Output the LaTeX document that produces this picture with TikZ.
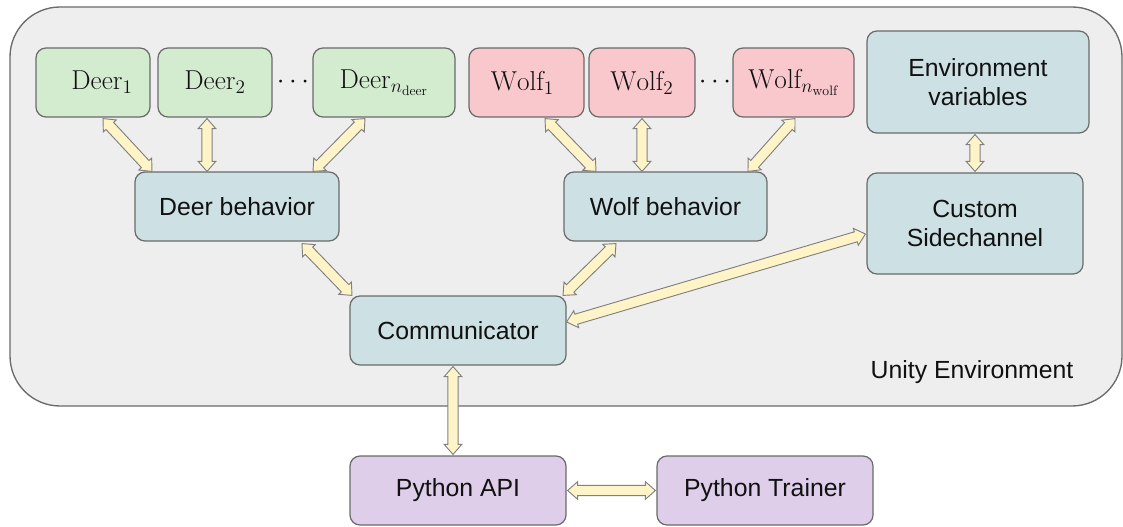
\documentclass[tikz,border=0pt]{standalone}
\usepackage{fontspec}
\setsansfont{Liberation Sans}
\usetikzlibrary{calc}

\definecolor{envbg}{HTML}{EEEEEE}
\definecolor{edge}{HTML}{6A6A6A}
\definecolor{deerfill}{HTML}{D3ECCF}
\definecolor{wolffill}{HTML}{F9C8CC}
\definecolor{corefill}{HTML}{CDE0E3}
\definecolor{pyfill}{HTML}{DECEE9}
\definecolor{arrowfill}{HTML}{FFF4C8}
\definecolor{ink}{HTML}{111111}

% block arrow dimensions: head length, head half width, shaft half width
\newcommand\arrHL{7.5pt}
\newcommand\arrHW{6.6pt}
\newcommand\arrSW{3.9pt}

% double-headed block arrow between two points
\newcommand\dblarrow[2]{%
  \coordinate (baS) at (#1);
  \coordinate (baE) at (#2);
  \coordinate (baA) at ($(baS)!\arrHL!(baE)$);
  \coordinate (baB) at ($(baE)!\arrHL!(baS)$);
  \draw[blockarrow] (baS)
    -- ($(baA)!\arrHW!-90:(baS)$) -- ($(baA)!\arrSW!-90:(baS)$)
    -- ($(baB)!\arrSW!90:(baE)$) -- ($(baB)!\arrHW!90:(baE)$)
    -- (baE)
    -- ($(baB)!\arrHW!-90:(baE)$) -- ($(baB)!\arrSW!-90:(baE)$)
    -- ($(baA)!\arrSW!90:(baS)$) -- ($(baA)!\arrHW!90:(baS)$)
    -- cycle;
}

\tikzset{
  box/.style={draw=edge, line width=0.9pt, rounded corners=7.5pt, inner sep=0pt,
    minimum height=51.75pt, text=ink, align=center},
  sans/.style={font=\sffamily\fontsize{18.6}{21.75}\selectfont},
  serif/.style={font=\fontsize{20.5}{24}\selectfont},
  agent/.style={box, serif, minimum width=85.5pt},
  deer/.style={agent, fill=deerfill},
  wolf/.style={agent, fill=wolffill},
  core/.style={box, sans, fill=corefill, minimum width=162pt},
  py/.style={box, sans, fill=pyfill, minimum width=162pt},
  blockarrow/.style={draw=edge!85, line width=0.7pt, fill=arrowfill, line join=miter},
  container/.style={draw=edge, line width=1pt, fill=envbg, rounded corners=37.5pt,
    inner sep=0pt, minimum width=834pt, minimum height=299.25pt},
}

\begin{document}
\begin{tikzpicture}[x=0.75pt, y=-0.75pt]
\useasboundingbox (0,0) rectangle (1123,527);

% Unity environment container
\node[container] (unity) at (566,206.5) {};
\node[sans, text=ink] (unitylabel) at (972,372) {Unity Environment};

% agents
\node[deer] (deer1) at (93,82.5) {\hspace*{13.5pt}$\mathrm{Deer}_1$};
\node[deer] (deer2) at (215,82.5) {$\mathrm{Deer}_2$};
\node[serif, text=ink] (deerdots) at (293,82) {$\cdots$};
\node[deer, minimum width=106.5pt] (deern) at (384,82.5) {$\mathrm{Deer}_{n_\mathrm{deer}}$};

\node[wolf, minimum width=86.25pt] (wolf1) at (526.5,82.5) {$\mathrm{Wolf}_1$\hspace*{6pt}};
\node[wolf, minimum width=79.5pt] (wolf2) at (642,82.5) {$\mathrm{Wolf}_2$};
\node[serif, text=ink] (wolfdots) at (715,82) {$\cdots$};
\node[wolf, minimum width=90.75pt] (wolfn) at (793.5,82.5) {$\mathrm{Wolf}_{n_\mathrm{wolf}}$};

% behaviours, side channel, communicator
\node[core, minimum width=166.5pt, minimum height=76.5pt] (env) at (978,82) {Environment\\variables};
\node[core, minimum width=153pt] (deerb) at (237,206.5) {Deer behavior};
\node[core, minimum width=152.25pt] (wolfb) at (665.5,206.5) {Wolf behavior};
\node[core, minimum width=162pt, minimum height=75.75pt] (custom) at (975,223.5) {Custom\\Sidechannel};
\node[core] (comm) at (458,330.5) {Communicator};

% python side
\node[py] (api) at (458,490.5) {Python API};
\node[py] (trainer) at (765,490.5) {Python Trainer};

% connections
\dblarrow{$(deer1.south)+(10,1)$}{$(deerb.north)+(-85,0)$}
\dblarrow{$(deer2.south)+(-8,1)$}{$(deerb.north)+(-30,0)$}
\dblarrow{$(deern.south)+(-19,1)$}{$(deerb.north)+(76,0)$}
\dblarrow{$(wolf1.south)+(18.5,1)$}{$(wolfb.north)+(-69.5,0)$}
\dblarrow{$(wolf2.south)+(0,1)$}{$(wolfb.north)+(-23.5,0)$}
\dblarrow{$(wolfn.south)+(1.5,1)$}{$(wolfb.north)+(82.5,0)$}
\dblarrow{$(env.south)+(-3,1)$}{$(custom.north)+(0,-1)$}
\dblarrow{$(deerb.south)+(65,2)$}{$(comm.north)+(-106,0)$}
\dblarrow{$(wolfb.south)+(-49.5,2)$}{$(comm.north)+(105,0)$}
\dblarrow{$(comm.east)+(0,-8.5)$}{$(custom.west)+(-1,10.5)$}
\dblarrow{$(comm.south)+(-5,1)$}{$(api.north)+(-5,-1)$}
\dblarrow{$(api.east)+(1,0)$}{$(trainer.west)+(-1,0)$}
\end{tikzpicture}
\end{document}
